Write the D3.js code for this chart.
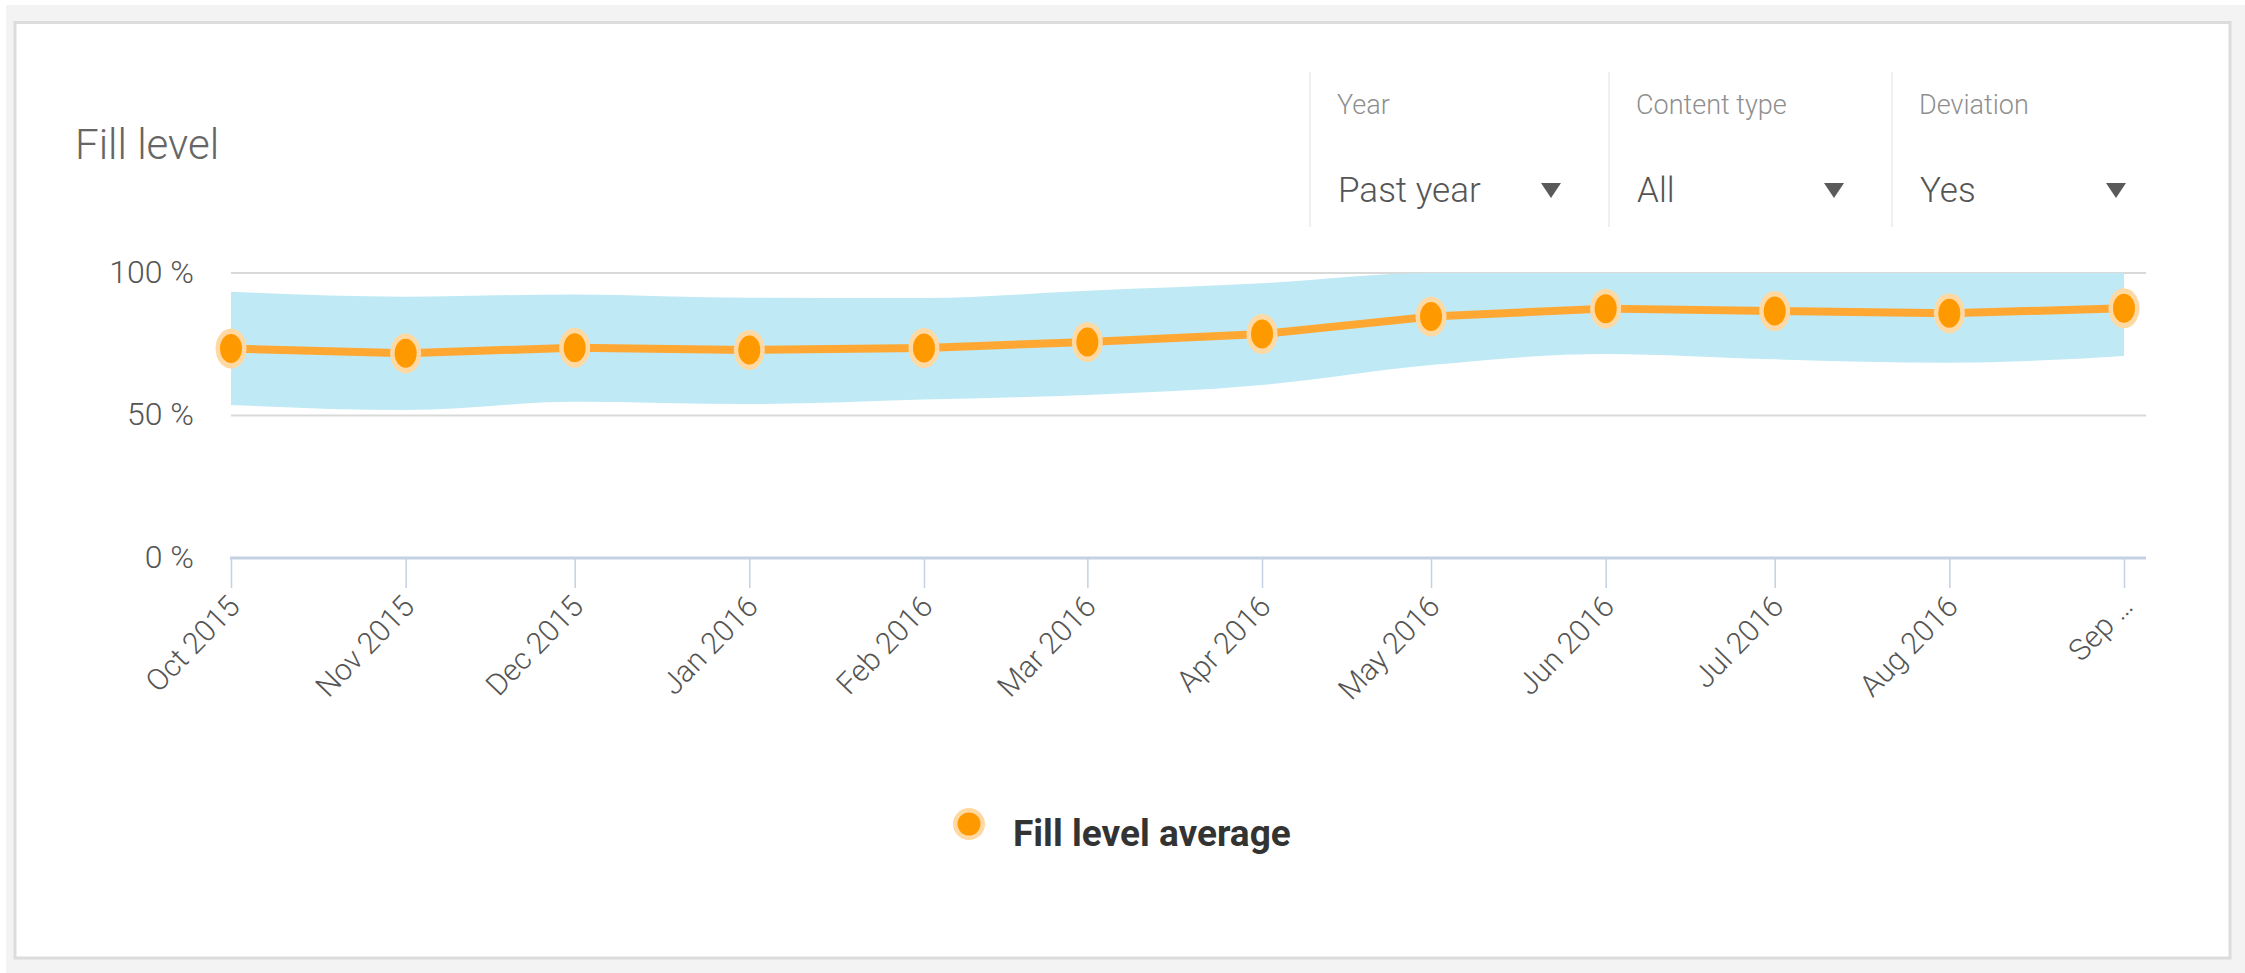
<!DOCTYPE html>
<html><head><meta charset="utf-8">
<script src="https://cdn.jsdelivr.net/npm/d3@7"></script>
<style>html,body{margin:0;padding:0;background:#fff;overflow:hidden}</style>
</head><body>
<svg id="chart" width="2245" height="973"></svg>
<script>
const monthDates = ["2015-10-01","2015-11-01","2015-12-01","2016-01-01","2016-02-01","2016-03-01","2016-04-01","2016-05-01","2016-06-01","2016-07-01","2016-08-01","2016-09-01"];
const tickLabels = ["Oct 2015","Nov 2015","Dec 2015","Jan 2016","Feb 2016","Mar 2016","Apr 2016","May 2016","Jun 2016","Jul 2016","Aug 2016","Sep \u2026"];
const avgValues   = [73.5, 71.8, 73.8, 73.0, 73.7, 75.8, 78.6, 84.7, 87.5, 86.7, 85.9, 87.6];
const upperValues = [93.4, 91.7, 92.5, 91.3, 91.2, 93.8, 96.4, 100, 100, 100, 100, 100];
const lowerValues = [53.7, 51.9, 54.8, 54.0, 55.6, 57.2, 60.7, 67.7, 71.6, 69.7, 68.5, 70.9];
const yTicks = [0, 50, 100];
const yTickLabels = ["0 %", "50 %", "100 %"];
const filterLabels = ["Year", "Content type", "Deviation"];
const filterValues = ["Past year", "All", "Yes"];
const titleText = "Fill level";
const legendText = "Fill level average";

const parse = d3.timeParse("%Y-%m-%d");
const dates = monthDates.map(parse);
const data = dates.map((d, i) => ({date: d, avg: avgValues[i], hi: upperValues[i], lo: lowerValues[i]}));

const svg = d3.select("#chart");
const FONT = "Roboto, 'Noto Sans', sans-serif";

// page background and card
svg.append("rect").attr("x", 6).attr("y", 5).attr("width", 2239).attr("height", 968).attr("fill", "#f3f3f3");
svg.append("rect").attr("x", 15).attr("y", 22.5).attr("width", 2215).attr("height", 935.5)
  .attr("fill", "#ffffff").attr("stroke", "#dcdcdc").attr("stroke-width", 3);

// title
svg.append("text").attr("x", 75).attr("y", 159).text(titleText)
  .attr("font-family", FONT).attr("font-weight", 300).attr("font-size", 42).attr("fill", "#666");

// filters
const sepX = [1310, 1609, 1892];
const arrowX = [1551, 1834, 2116];
sepX.forEach((sx, i) => {
  svg.append("line").attr("x1", sx).attr("x2", sx).attr("y1", 72).attr("y2", 227)
    .attr("stroke", "#efefef").attr("stroke-width", 2);
  svg.append("text").attr("x", sx + 27).attr("y", 114).text(filterLabels[i])
    .attr("font-family", FONT).attr("font-weight", 300).attr("font-size", 27).attr("fill", "#8f8f8f");
  svg.append("text").attr("x", sx + 28).attr("y", 202).text(filterValues[i])
    .attr("font-family", FONT).attr("font-weight", 300).attr("font-size", 35).attr("fill", "#555");
  const ax = arrowX[i];
  svg.append("path").attr("d", `M${ax-10},183 L${ax+10},183 L${ax},198 Z`).attr("fill", "#5a5a5a");
});

// scales
const x = d3.scaleTime().domain([dates[0], dates[dates.length - 1]]).range([231, 2124]);
const y = d3.scaleLinear().domain([0, 100]).range([558, 273]);
const plotRight = 2146;

// gridlines
svg.append("g").selectAll("line").data(yTicks.filter(t => t > 0)).join("line")
  .attr("x1", 231).attr("x2", plotRight).attr("y1", d => y(d)).attr("y2", d => y(d))
  .attr("stroke", "#d9d9d9").attr("stroke-width", 2);

// clip
svg.append("clipPath").attr("id", "plotclip").append("rect")
  .attr("x", 225).attr("y", y(100)).attr("width", plotRight - 225).attr("height", y(0) - y(100));

// deviation band
const area = d3.area().x(d => x(d.date)).y0(d => y(d.lo)).y1(d => y(d.hi)).curve(d3.curveMonotoneX);
svg.append("path").datum(data).attr("d", area).attr("fill", "#bfeaf5").attr("clip-path", "url(#plotclip)");

// average line
const line = d3.line().x(d => x(d.date)).y(d => y(d.avg));
svg.append("path").datum(data).attr("d", line).attr("fill", "none")
  .attr("stroke", "#ffa733").attr("stroke-width", 8).attr("stroke-linejoin", "round");

// markers
const mk = svg.append("g").selectAll("g").data(data).join("g")
  .attr("transform", d => `translate(${x(d.date)},${y(d.avg)})`);
mk.append("ellipse").attr("rx", 15.5).attr("ry", 20).attr("fill", "#ffd9a3");
mk.append("ellipse").attr("rx", 11).attr("ry", 14.5).attr("fill", "#ff9900");

// x axis
const xAxis = d3.axisBottom(x).tickValues(dates).tickSize(30).tickFormat((d, i) => tickLabels[i]);
const gx = svg.append("g").attr("transform", "translate(0,558)").call(xAxis);
gx.select(".domain").remove();
gx.selectAll(".tick line").attr("stroke", "#c3d1e2").attr("stroke-width", 1.5);
gx.selectAll(".tick text")
  .attr("x", 0).attr("y", 0).attr("dy", 0)
  .attr("transform", "translate(10,50) rotate(-46)")
  .attr("text-anchor", "end")
  .attr("font-family", FONT).attr("font-weight", 300).attr("font-size", 30).attr("fill", "#555");
svg.append("line").attr("x1", 230).attr("x2", plotRight).attr("y1", 558).attr("y2", 558)
  .attr("stroke", "#c3d1e2").attr("stroke-width", 3);

// y axis labels
const yAxis = d3.axisLeft(y).tickValues(yTicks).tickSize(0).tickPadding(0).tickFormat((d, i) => yTickLabels[i]);
const gy = svg.append("g").attr("transform", "translate(194,0)").call(yAxis);
gy.select(".domain").remove();
gy.selectAll(".tick text").attr("x", 0).attr("dy", 9)
  .attr("font-family", FONT).attr("font-weight", 300).attr("font-size", 32).attr("fill", "#555");

// legend
const lg = svg.append("g").attr("transform", "translate(969,824)");
lg.append("circle").attr("r", 16).attr("fill", "#ffd9a3");
lg.append("circle").attr("r", 11.5).attr("fill", "#ff9900");
svg.append("text").attr("x", 1013).attr("y", 846).text(legendText)
  .attr("font-family", FONT).attr("font-weight", 700).attr("font-size", 37).attr("fill", "#333");
</script>
</body></html>
